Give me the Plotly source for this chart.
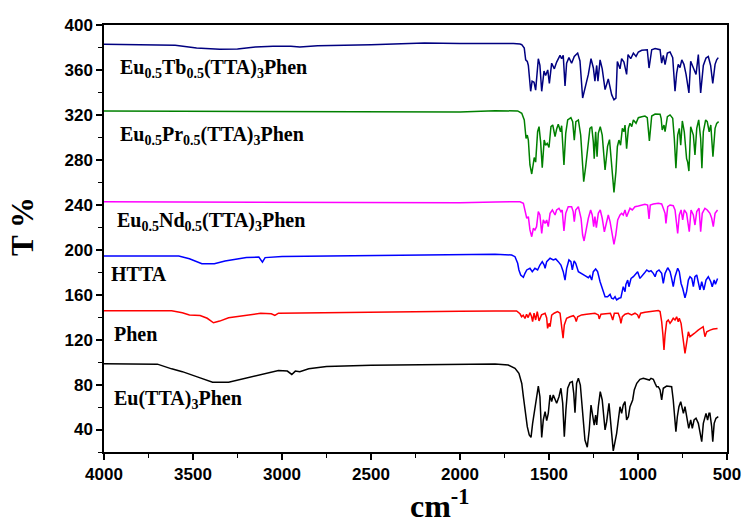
import plotly.graph_objects as go

# ---------------- data (wavenumber cm^-1, T %) ----------------
tb_data = [
    (4000, 382.8), (3750, 382.6), (3600, 382), (3480, 379.5), (3350, 378.5), (3250, 378.6),
    (3150, 380.5), (3050, 381), (2950, 381.2), (2900, 380.5), (2800, 381.5), (2500, 382.5),
    (2200, 384), (2000, 383.5), (1800, 383.8), (1700, 383.5), (1663, 383), (1653, 382.5),
    (1639, 379.5), (1631, 369), (1622, 367.6), (1616, 364), (1603, 341), (1595, 350),
    (1584, 349), (1575, 342), (1560, 370), (1551, 364), (1541, 341), (1528, 359), (1519, 355),
    (1507, 360), (1498, 348), (1485, 366), (1470, 361), (1457, 367), (1438, 373), (1429, 370),
    (1420, 373), (1410, 345.7), (1401, 366), (1388, 371), (1373, 366), (1358, 372), (1339, 375),
    (1326, 368), (1311, 335), (1298, 344), (1279, 356), (1264, 370), (1251, 362), (1242, 350),
    (1232, 364), (1225, 350), (1213, 369), (1201, 361), (1185, 342.5), (1167, 352), (1148, 338),
    (1135, 333.5), (1124, 335), (1116, 367.6), (1101, 361), (1092, 370), (1079, 367), (1064, 356),
    (1056, 373.6), (1041, 370), (1026, 375), (1011, 372), (998, 376), (979, 377.5), (961, 378),
    (948, 378), (938, 361.7), (923, 378), (904, 379), (876, 378), (867, 366), (858, 373),
    (848, 364.7), (835, 375), (820, 376), (805, 371), (792, 341), (783, 357), (774, 365),
    (764, 362), (754, 369), (742, 365), (730, 356), (723, 350), (714, 339.5), (704, 367.7),
    (689, 362), (674, 356), (661, 373.6), (648, 339.5), (633, 364), (618, 370.6), (605, 372),
    (592, 364), (580, 348), (567, 365), (558, 369), (549, 371),
]

pr_data = [
    (4000, 323.5), (3500, 323.2), (3000, 323), (2500, 322.5), (2000, 322.5), (1803, 323.7),
    (1676, 323.5), (1653, 321.4), (1639, 315.5), (1629, 299), (1622, 302), (1616, 297.6),
    (1607, 275.4), (1597, 267.4), (1588, 277), (1583, 282), (1575, 278), (1564, 305),
    (1556, 309.5), (1547, 296), (1538, 273), (1527, 297.6), (1519, 293), (1510, 294.7),
    (1500, 291), (1489, 309.5), (1479, 311), (1466, 300.6), (1457, 307.4), (1448, 311.6),
    (1435, 305), (1429, 310.4), (1416, 275.4), (1406, 303.6), (1395, 315.5), (1377, 317.5),
    (1367, 314), (1358, 297.6), (1349, 314), (1335, 315.5), (1322, 302), (1313, 281),
    (1305, 260.5), (1294, 274), (1283, 290), (1270, 308), (1260, 309.5), (1251, 296),
    (1246, 281), (1238, 305), (1230, 282.8), (1223, 303.6), (1212, 309.5), (1201, 302),
    (1185, 271), (1171, 292), (1160, 298), (1146, 275), (1135, 251), (1124, 269.5),
    (1116, 291.7), (1107, 297.6), (1098, 293), (1088, 308), (1079, 305), (1073, 311),
    (1064, 290), (1054, 308), (1045, 312.5), (1035, 309.5), (1026, 315.5), (1011, 312.5),
    (998, 317.5), (979, 318.4), (961, 319), (948, 317.5), (936, 296.8), (923, 319), (904, 320.8),
    (876, 320.5), (870, 317), (864, 306.6), (854, 311), (848, 305), (835, 318.5), (820, 320),
    (805, 317), (796, 299), (787, 272.5), (777, 302), (768, 308), (760, 293), (751, 314.6),
    (740, 305), (727, 281), (721, 278), (714, 270), (704, 309.5), (689, 302), (680, 284.3),
    (670, 308), (659, 315.5), (648, 299), (641, 272.5), (633, 305), (620, 315.5), (611, 314),
    (600, 305), (591, 311), (579, 282.8), (567, 308), (558, 312.5), (547, 314),
]

nd_data = [
    (4000, 242.7), (3500, 242.5), (3000, 242), (2500, 242), (2000, 241.8), (1800, 242.5),
    (1663, 242.7), (1644, 241.3), (1631, 230.9), (1625, 228), (1616, 229.4), (1607, 217.6),
    (1597, 211.6), (1588, 219), (1579, 217.6), (1570, 220.5), (1560, 233.9), (1551, 230.9),
    (1541, 214.6), (1532, 226.5), (1522, 223.5), (1513, 226.5), (1504, 220.5), (1494, 232.4),
    (1481, 235.4), (1466, 230.9), (1457, 235.4), (1444, 236.9), (1433, 233.9), (1426, 235.4),
    (1416, 216.7), (1406, 232.4), (1392, 238.3), (1373, 238.3), (1364, 233.9), (1358, 225),
    (1350, 235.4), (1335, 238.3), (1320, 228), (1311, 213.1), (1303, 207.8), (1294, 216),
    (1279, 228), (1266, 235.4), (1257, 230.9), (1249, 220.5), (1242, 229.4), (1234, 219.6),
    (1223, 232.4), (1212, 235.4), (1201, 228), (1189, 216), (1176, 225), (1167, 230.9),
    (1157, 225), (1144, 210.2), (1135, 204.8), (1125, 213.1), (1114, 226.5), (1101, 230.9),
    (1092, 232.4), (1083, 230.9), (1073, 235.4), (1064, 229.4), (1054, 233.9), (1045, 236.9),
    (1032, 235.4), (1017, 238.3), (998, 238.9), (979, 239.8), (961, 240.4), (946, 239.8),
    (938, 227.4), (931, 239.8), (914, 240.7), (886, 241.3), (867, 240.7), (858, 236.9),
    (848, 232.4), (843, 223.5), (833, 238.3), (820, 239.8), (802, 239.2), (792, 235.4),
    (783, 225), (777, 214.6), (768, 230.9), (758, 235.4), (749, 226.5), (740, 235.4),
    (727, 232.4), (717, 220.5), (712, 216), (702, 235.4), (689, 230.9), (680, 222),
    (670, 233.9), (657, 236.9), (648, 216), (639, 232.4), (624, 236.9), (611, 235.4),
    (596, 232.4), (586, 228), (577, 220.5), (567, 232.4), (553, 235.4),
]

htta_data = [
    (4000, 194.5), (3700, 194.6), (3580, 194.4), (3520, 192), (3450, 187.5), (3380, 187.5),
    (3320, 190), (3200, 193), (3130, 193.5), (3110, 189), (3095, 193), (3000, 194),
    (2500, 195), (2000, 196), (1803, 196), (1710, 195.3), (1691, 193.8), (1676, 187.9),
    (1669, 182), (1659, 177.5), (1644, 175.5), (1635, 179), (1625, 182), (1607, 183.5),
    (1594, 180.5), (1579, 183.5), (1564, 182), (1551, 186.4), (1538, 189.4), (1527, 186.4),
    (1522, 183.5), (1513, 189.4), (1494, 192.4), (1476, 190.9), (1462, 191.8), (1448, 189.4),
    (1433, 186.4), (1420, 180.5), (1410, 173), (1401, 183.5), (1388, 190.9), (1377, 189.4),
    (1369, 182), (1359, 190), (1350, 187.9), (1335, 180.5), (1316, 179), (1298, 176.9),
    (1279, 175.1), (1270, 176.9), (1260, 173), (1251, 180.5), (1238, 182.9), (1227, 180.5),
    (1213, 171.5), (1204, 167.1), (1195, 164.2), (1185, 158.2), (1171, 158.2), (1157, 160.3),
    (1148, 156.8), (1139, 156.2), (1129, 158.2), (1120, 155.3), (1107, 156.8), (1096, 157.3),
    (1083, 167.1), (1073, 162.7), (1068, 169.2), (1058, 173), (1051, 167.1), (1039, 174.5),
    (1026, 176), (1012, 178.1), (1002, 180.5), (989, 174.5), (976, 177.5), (965, 179),
    (951, 182), (938, 180.5), (927, 181.4), (914, 179), (904, 176), (895, 180.5), (882, 182),
    (867, 179), (858, 170), (848, 179), (833, 184), (820, 180.5), (811, 174.5), (802, 167.1),
    (792, 176), (777, 183.5), (768, 180.5), (758, 170), (749, 165.7), (736, 157.3),
    (727, 162.7), (717, 173), (708, 176), (698, 174.5), (689, 167.1), (680, 176), (670, 177.5),
    (657, 168.6), (652, 164.2), (642, 171.5), (630, 164.2), (618, 173), (605, 176),
    (591, 171.5), (583, 167.1), (572, 173), (565, 169.2), (553, 174.5),
]

phen_data = [
    (4000, 145.7), (3800, 145.8), (3620, 145.8), (3560, 144), (3520, 142), (3460, 141.5),
    (3420, 139), (3385, 135), (3350, 136.5), (3300, 139.5), (3200, 141.5), (3120, 143.4),
    (3060, 143), (3040, 141.5), (3020, 143.5), (2800, 144), (2500, 144.5), (2000, 145.3),
    (1803, 145.5), (1682, 145.5), (1663, 143), (1654, 140.4), (1645, 141.8), (1635, 138.8),
    (1626, 142.5), (1617, 139.6), (1607, 144), (1598, 140.6), (1592, 136), (1584, 143.5),
    (1575, 137.5), (1566, 144.8), (1556, 136.6), (1542, 142), (1522, 143.5), (1513, 139.3),
    (1508, 130), (1500, 134.5), (1494, 131.5), (1485, 141.8), (1471, 143.5), (1452, 145),
    (1438, 143.5), (1429, 130.2), (1421, 121.2), (1414, 133), (1401, 139), (1382, 140.4),
    (1363, 141.3), (1354, 139.6), (1347, 136), (1339, 140.4), (1317, 142), (1289, 142.6),
    (1261, 143.5), (1242, 143.5), (1223, 142), (1218, 138.4), (1208, 142.6), (1176, 143.5),
    (1155, 143.5), (1148, 140.4), (1142, 137.5), (1133, 143.5), (1111, 143.5), (1101, 139),
    (1096, 134.5), (1088, 140.4), (1073, 142.6), (1055, 143.5), (1036, 142), (1017, 143.5),
    (1002, 142), (995, 139), (985, 143.5), (961, 144.4), (933, 145), (904, 145.5), (886, 146),
    (876, 145), (867, 136), (860, 124.2), (854, 110.8), (848, 124.2), (839, 136), (830, 137.5),
    (820, 134.5), (811, 136.6), (802, 139), (792, 137.5), (783, 140.4), (774, 136), (768, 139),
    (758, 134.5), (751, 124.2), (743, 115.3), (736, 107.8), (726, 118), (717, 127),
    (708, 122.6), (699, 124), (684, 125.5), (662, 128.5), (643, 130.6), (634, 131.5),
    (624, 122.6), (614, 127), (595, 128.5), (577, 129.5), (553, 130),
]

eu_data = [
    (4000, 98.5), (3800, 98.5), (3700, 98.2), (3620, 94), (3560, 91.5), (3460, 86), (3390, 82),
    (3300, 82), (3230, 84.5), (3120, 89), (3020, 92.5), (2970, 92), (2945, 89), (2925, 92),
    (2900, 91.5), (2850, 94), (2750, 96), (2500, 97.3), (2200, 97.8), (2000, 98.5),
    (1803, 98.3), (1729, 97.4), (1691, 94.5), (1669, 90), (1653, 81), (1644, 69.2),
    (1635, 57.4), (1622, 42.5), (1611, 35.1), (1601, 33), (1592, 45.5), (1583, 54.4),
    (1571, 66.3), (1560, 78.7), (1551, 69.2), (1541, 33), (1532, 48.5), (1522, 55.9),
    (1513, 47.9), (1504, 54.4), (1494, 70.7), (1485, 64.8), (1476, 70.7), (1457, 63.3),
    (1444, 69.2), (1433, 76.7), (1423, 63.3), (1414, 33.6), (1405, 57.4), (1395, 76.7),
    (1382, 81.7), (1369, 82.6), (1361, 72.2), (1354, 55), (1345, 81.1), (1335, 85.6),
    (1324, 79.6), (1313, 55.9), (1298, 30.7), (1285, 24.2), (1274, 39.6), (1264, 61.8),
    (1254, 51.4), (1246, 44), (1238, 52.9), (1232, 44), (1223, 60.3), (1212, 73.7),
    (1201, 66.3), (1185, 39.6), (1176, 47), (1163, 63.3), (1148, 36.6), (1139, 21),
    (1120, 36.6), (1101, 60.3), (1092, 54.4), (1083, 61.8), (1073, 64.8), (1064, 48.5),
    (1054, 51.4), (1045, 60.3), (1030, 66.3), (1021, 75.2), (1007, 81.1), (989, 84.7),
    (970, 85.6), (951, 84.7), (936, 84), (927, 85.6), (914, 84.7), (904, 81.1), (895, 78.1),
    (886, 78.1), (876, 75.2), (867, 66.3), (858, 76.7), (839, 78.7), (820, 78.7), (811, 78.1),
    (802, 66.3), (792, 48.5), (787, 38), (779, 51.4), (770, 60.3), (760, 64.8), (753, 60.3),
    (745, 54.4), (736, 60.3), (727, 51.4), (715, 41), (704, 48.5), (695, 41), (685, 48.5),
    (674, 50), (661, 45.5), (652, 36.6), (642, 29.2), (633, 45.5), (618, 54.4), (609, 48.5),
    (601, 54.4), (596, 54.4), (586, 42.5), (580, 29.2), (572, 45.5), (562, 50), (549, 51.4),
]

series = [
    ("Eu<sub>0.5</sub>Tb<sub>0.5</sub>(TTA)<sub>3</sub>Phen", tb_data, "#000080", 3921, 361),
    ("Eu<sub>0.5</sub>Pr<sub>0.5</sub>(TTA)<sub>3</sub>Phen", pr_data, "#008000", 3921, 302),
    ("Eu<sub>0.5</sub>Nd<sub>0.5</sub>(TTA)<sub>3</sub>Phen", nd_data, "#FF00FF", 3938, 225),
    ("HTTA", htta_data, "#0000FF", 3972, 178),
    ("Phen", phen_data, "#FF0000", 3955, 124.6),
    ("Eu(TTA)<sub>3</sub>Phen", eu_data, "#000000", 3955, 67),
]

x_ticks = [4000, 3500, 3000, 2500, 2000, 1500, 1000, 500]
y_ticks = [40, 80, 120, 160, 200, 240, 280, 320, 360, 400]

SERIF = "Liberation Serif, Times New Roman, serif"
SANS = "Liberation Sans, Arial, sans-serif"

fig = go.Figure()
annotations = []
for name, data, color, lx, ly in series:
    xs = [p[0] for p in data]
    ys = [p[1] for p in data]
    fig.add_trace(go.Scatter(x=xs, y=ys, mode="lines", line=dict(color=color, width=1.5),
                             showlegend=False, hoverinfo="skip"))
    annotations.append(dict(x=lx, y=ly, xref="x", yref="y", text=name, showarrow=False,
                            xanchor="left", yanchor="middle",
                            font=dict(family=SERIF, size=20, color="black", weight="bold")))

annotations.append(dict(x=0, y=0.527, xref="paper", yref="paper", xanchor="center",
                        yanchor="middle", xshift=-81, textangle=-90, text="T %", showarrow=False,
                        font=dict(family=SERIF, size=31, color="black", weight="bold")))
annotations.append(dict(x=0.539, y=0, xref="paper", yref="paper", xanchor="center",
                        yanchor="top", yshift=-30, text="cm<sup>-1</sup>", showarrow=False,
                        font=dict(family=SERIF, size=32, color="black", weight="bold")))

axis_common = dict(showline=True, linewidth=1.5, linecolor="black", mirror=True,
                   showgrid=False, zeroline=False, ticks="outside", ticklen=6, tickwidth=1.5,
                   tickcolor="black", automargin=False,
                   tickfont=dict(family=SANS, size=17, color="black", weight="bold"))

fig.update_layout(
    width=743, height=523,
    margin=dict(l=104, r=16, t=25, b=71, autoexpand=False),
    paper_bgcolor="white", plot_bgcolor="white",
    annotations=annotations,
    xaxis=dict(range=[4000, 500], tickvals=x_ticks, ticktext=[str(v) for v in x_ticks],
               minor=dict(dtick=250, tick0=0, ticks="outside", ticklen=4, tickwidth=1.2,
                          tickcolor="black"),
               **axis_common),
    yaxis=dict(range=[20, 400], tickvals=y_ticks, ticktext=[str(v) for v in y_ticks],
               minor=dict(dtick=20, tick0=0, ticks="outside", ticklen=4, tickwidth=1.2,
                          tickcolor="black"),
               **axis_common),
)

fig.write_html("out.html")
